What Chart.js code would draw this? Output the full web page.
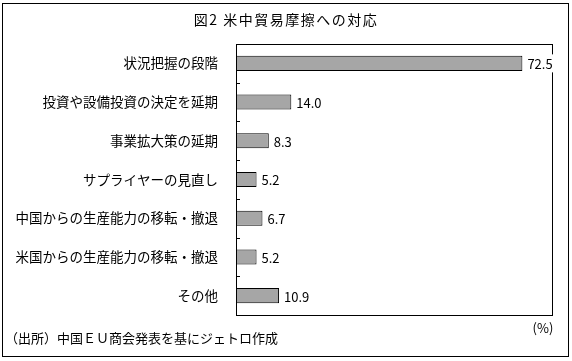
<!DOCTYPE html>
<html>
<head>
<meta charset="utf-8">
<script src="https://cdn.jsdelivr.net/npm/chart.js@4"></script>
<style>
  html, body { margin: 0; padding: 0; background: #fff; }
  #wrap { width: 572px; height: 361px; position: relative; }
</style>
</head>
<body>
<div id="wrap"><canvas id="chart" width="572" height="361"></canvas></div>
<script>
const categories = [
    '状況把握の段階',
    '投資や設備投資の決定を延期',
    '事業拡大策の延期',
    'サプライヤーの見直し',
    '中国からの生産能力の移転・撤退',
    '米国からの生産能力の移転・撤退',
    'その他'
];
const shares = [72.5, 14.0, 8.3, 5.2, 6.7, 5.2, 10.9];
const xMax = 80;

const titleText = '図2 米中貿易摩擦への対応';
const sourceText = '（出所）中国ＥＵ商会発表を基にジェトロ作成';
const unitText = '(%)';

const fontFamily = '"Noto Sans CJK JP", "Noto Sans", sans-serif';
const barGray = '#A6A6A6';

// frame, plot border, inner ticks, texts
const decorations = {
    id: 'decorations',
    afterDraw(chart) {
        const ctx = chart.ctx;
        const area = chart.chartArea;
        const y = chart.scales.y;
        ctx.save();
        ctx.strokeStyle = '#000';
        ctx.lineWidth = 1;
        ctx.strokeRect(2.5, 3.5, 566, 353);
        ctx.strokeRect(Math.round(area.left) + 0.5, Math.round(area.top) + 0.5,
            Math.round(area.right - area.left), Math.round(area.bottom - area.top));

        ctx.beginPath();
        for (let i = 0; i < categories.length - 1; i++) {
            const py = Math.round((y.getPixelForValue(i) + y.getPixelForValue(i + 1)) / 2) + 0.5;
            ctx.moveTo(area.left, py);
            ctx.lineTo(area.left + 4, py);
        }
        ctx.stroke();

        ctx.fillStyle = '#000';
        ctx.textBaseline = 'middle';
        ctx.font = '14px ' + fontFamily;
        ctx.textAlign = 'center';
        ctx.letterSpacing = '1.5px';
        ctx.fillText(titleText, 286, 20);
        ctx.letterSpacing = '0px';
        ctx.font = '13px ' + fontFamily;
        ctx.textAlign = 'left';
        ctx.fillText(sourceText, 5, 338);
        ctx.textAlign = 'center';
        ctx.fillText(unitText, 543, 328);
        ctx.restore();
    }
};

// value labels at bar ends, on a white box
const valueLabels = {
    id: 'valueLabels',
    afterDraw(chart) {
        const ctx = chart.ctx;
        const meta = chart.getDatasetMeta(0);
        ctx.save();
        ctx.font = '13px ' + fontFamily;
        ctx.textBaseline = 'middle';
        ctx.textAlign = 'left';
        meta.data.forEach((bar, i) => {
            const txt = shares[i].toFixed(1);
            const w = ctx.measureText(txt).width;
            const x = bar.x + 5;
            ctx.fillStyle = '#fff';
            ctx.fillRect(x - 1, bar.y - 9, w + 2, 18);
            ctx.fillStyle = '#000';
            ctx.fillText(txt, x, bar.y + 1);
        });
        ctx.restore();
    }
};

new Chart(document.getElementById('chart').getContext('2d'), {
    type: 'bar',
    data: {
        labels: categories,
        datasets: [{
            data: shares,
            backgroundColor: barGray,
            borderColor: '#000',
            borderWidth: 1,
            categoryPercentage: 1,
            barPercentage: 0.39
        }]
    },
    options: {
        indexAxis: 'y',
        responsive: false,
        animation: false,
        layout: { padding: { top: 44, bottom: 46, right: 20, left: 0 } },
        plugins: {
            legend: { display: false },
            tooltip: { enabled: false },
            title: { display: false }
        },
        scales: {
            x: { display: false, min: 0, max: xMax },
            y: {
                grid: { display: false },
                border: { display: false },
                ticks: {
                    color: '#000',
                    padding: 10,
                    font: { family: fontFamily, size: 13.5 }
                },
                afterFit(scale) { scale.width = 236; }
            }
        }
    },
    plugins: [decorations, valueLabels]
});
</script>
</body>
</html>
